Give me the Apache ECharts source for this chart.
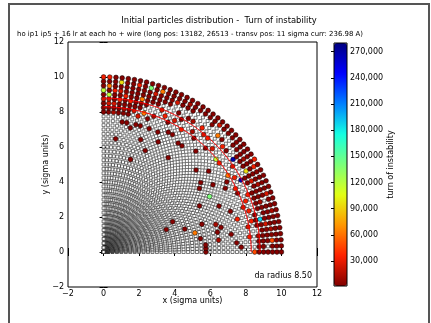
<!DOCTYPE html>
<html><head><meta charset="utf-8">
<script src="https://cdn.jsdelivr.net/npm/echarts@6/dist/echarts.min.js"></script>
<style>html,body{margin:0;padding:0;background:#fff}#c{width:431px;height:323px}</style>
</head><body><div id="c"></div>
<script>
// ---- data ----
const angles = [0,2,4,6,8,10,12,14,16,18,20,22,24,26,28,30,32,34,36,38,40,42,44,46,48,50,52,54,56,58,60,62,64,66,68,70,72,74,76,78,80,82,84,86,88,90];
const radii = [0,0.25,0.5,0.75,1,1.25,1.5,1.75,2,2.25,2.5,2.75,3,3.25,3.5,3.75,4,4.25,4.5,4.75,5,5.25,5.5,5.75,6,6.25,6.5,6.75,7,7.25,7.5,7.75,8,8.25,8.5,8.75,9,9.25,9.5,9.75,10];
const daRadii = [8.3, 8.8];
const cbTicks = [30000,60000,90000,120000,150000,180000,210000,240000,270000];
const turnRange = [1300, 280000];
// turn of instability for each code letter
const turnCodes = {a:3000, b:12000, r:24000, R:33000, o:48000, O:62000, y:95000, l:118000, g:140000, c:188000, N:268000};
// lost particles per angle: "idx+code" single points, "start:codes" runs ('.' = survived)
const lossRows = [
 "23a 34:oaaaaaa",
 "23a 31a 35:aa.aaa",
 "23a 30a 35:aaaoaa",
 "26b 33R 35:baaaaa",
 "22a 29a 35:.aabaa",
 "26a 33r 35:aaraaa",
 "21O 27a 34R 35:acaaaa",
 "26b 31R 35:a.aaba",
 "19a 23a 34R 36:aaaaa",
 "30a 33r 36:ab.aa",
 "15a 34R 36:aaara",
 "28a 35R 36:aaaaa",
 "17a 33a 36:.abaa",
 "24a 33R 36:araaa",
 "27g 31a 35N 36:aaaaa",
 "32a 34R 37:yaRa",
 "29a 33O 37:aaaR",
 "26a 35r 37:abaa",
 "27a 36:Naaaa",
 "30a 33R 38:aaa",
 "33l 36a 38:aaa",
 "28a 36R 39:aa",
 "34r 37a 39:aa",
 "33a 37O 39:aa",
 "31a 35R 39:ra",
 "35r 38a 39:aa",
 "33a 36R 39:aa",
 "30a 34b 39:aa",
 "26a 30a 36b 39:aa",
 "33R 36a 38:aaa",
 "31a 35a 38:aba",
 "31a 34r 36a 38:aaa",
 "28a 33a 38:raa",
 "30a 34R 37:aaaa",
 "25a 35r 37:aaaa",
 "30a 33b 36:aaaOa",
 "27a 32a 36:aaraa",
 "22a 30a 33O 35:aaaaga",
 "30a 32r 34:aaOaaaa",
 "29a 33:raaaaaRa",
 "30a 32:aaaRaaaaa",
 "30a 32:abaaRaaaa",
 "26a 32:aaaRaraya",
 "32:baraaRaaa",
 "32:aarrlaOaR",
 "32:aaaralaaR"
];
const titleText = 'Initial particles distribution -  Turn of instability';
const subText = 'ho ip1 ip5 + 16 lr at each ho + wire (long pos: 13182, 26513 - transv pos: 11 sigma curr: 236.98 A)';
const daText = 'da radius 8.50';

// ---- build ----
const stable = [], lost = [];
angles.forEach((a, ai) => {
  const codes = {};
  lossRows[ai].split(' ').forEach(tok => {
    if (tok.indexOf(':') >= 0) {
      const [s, str] = tok.split(':');
      const st = parseInt(s, 10);
      for (let k = 0; k < str.length; k++) codes[st + k] = str[k];
    } else {
      codes[parseInt(tok, 10)] = tok[tok.length - 1];
    }
  });
  const th = a * Math.PI / 180;
  radii.forEach((r, ri) => {
    const x = r * Math.cos(th), y = r * Math.sin(th);
    const c = codes[ri];
    if (c && c !== '.') lost.push([x, y, turnCodes[c]]);
    else stable.push([x, y]);
  });
});
const arcs = daRadii.map(R => angles.map(a => [R * Math.cos(a * Math.PI / 180), R * Math.sin(a * Math.PI / 180)]));

const jet = ['#800000','#ff2100','#ff9600','#e2ff14','#7aff7a','#14ffe2','#0080ff','#0000ff','#000080'];
const FF = '"DejaVu Sans", sans-serif';
const fmt = v => v < 0 ? '\u2212' + (-v) : String(v);
const tickStyle = {inside:true, length:4, lineStyle:{color:'#000', width:1}};

const chart = echarts.init(document.getElementById('c'), null, {renderer:'canvas'});
chart.setOption({
  animation:false,
  backgroundColor:'#fff',
  textStyle:{fontFamily:FF},
  title:[
    {text:titleText, left:219, top:17, textAlign:'center', padding:0,
     textStyle:{fontSize:8.4, fontWeight:'normal', fontFamily:FF, color:'#000'}},
    {text:subText, left:190, top:31, textAlign:'center', padding:0,
     textStyle:{fontSize:6.95, fontWeight:'normal', fontFamily:FF, color:'#000'}}
  ],
  grid:[
    {left:68, top:42, width:249, height:245, show:true, borderColor:'#000', borderWidth:1, backgroundColor:'#fff'},
    {left:334, top:43, width:13, height:243, show:true, borderColor:'#000', borderWidth:1, backgroundColor:'transparent', z:10}
  ],
  xAxis:[
    {gridIndex:0, type:'value', min:-2, max:12, interval:2, position:'bottom',
     axisLine:{show:false}, axisTick:tickStyle, splitLine:{show:false},
     axisLabel:{fontSize:8, color:'#000', margin:3, formatter:fmt, fontFamily:FF},
     name:'x (sigma units)', nameLocation:'middle', nameGap:10, nameMoveOverlap:false,
     nameTextStyle:{fontSize:8, color:'#000', fontFamily:FF}},
    {gridIndex:0, type:'value', min:-2, max:12, interval:2, position:'top',
     axisLine:{show:false}, axisTick:tickStyle, splitLine:{show:false}, axisLabel:{show:false}},
    {gridIndex:1, type:'value', min:0, max:1, show:false}
  ],
  yAxis:[
    {gridIndex:0, type:'value', min:-2, max:12, interval:2, position:'left',
     axisLine:{show:false}, axisTick:tickStyle, splitLine:{show:false},
     axisLabel:{fontSize:8, color:'#000', margin:4, formatter:fmt, fontFamily:FF},
     name:'y (sigma units)', nameLocation:'middle', nameGap:18, nameRotate:90, nameMoveOverlap:false,
     nameTextStyle:{fontSize:8, color:'#000', fontFamily:FF}},
    {gridIndex:0, type:'value', min:-2, max:12, interval:2, position:'right',
     axisLine:{show:false}, axisTick:tickStyle, splitLine:{show:false}, axisLabel:{show:false}},
    {gridIndex:1, type:'value', min:turnRange[0], max:turnRange[1], position:'right',
     axisLine:{show:false}, splitLine:{show:false},
     axisTick:{show:true, inside:true, length:3, customValues:cbTicks, lineStyle:{color:'#000'}},
     axisLabel:{fontSize:8, color:'#000', margin:3, customValues:cbTicks, fontFamily:FF},
     name:'turn of instability', nameLocation:'middle', nameGap:40, nameRotate:90,
     nameTextStyle:{fontSize:8, color:'#000', fontFamily:FF}}
  ],
  visualMap:{
    type:'continuous', min:turnRange[0], max:turnRange[1], dimension:2, seriesIndex:1,
    inRange:{color:jet}, left:334, top:43, itemWidth:13, itemHeight:243,
    calculable:false, padding:0, orient:'vertical', text:null, hoverLink:false
  },
  series:[
    {type:'scatter', data:stable, symbol:'rect', symbolSize:3, silent:true,
     itemStyle:{color:'#fff', borderColor:'#222', borderWidth:0.75}, z:2},
    {type:'scatter', data:lost, symbol:'circle', symbolSize:4.8, silent:true,
     itemStyle:{borderColor:'#000', borderWidth:0.5, opacity:1}, z:3},
    {type:'line', data:arcs[0], smooth:true, showSymbol:false, silent:true,
     lineStyle:{color:'#ff0000', width:1}, z:4},
    {type:'line', data:arcs[1], smooth:true, showSymbol:false, silent:true,
     lineStyle:{color:'#ff0000', width:1}, z:4}
  ],
  graphic:[
    {type:'rect', shape:{x:9, y:4, width:420, height:340}, style:{fill:'none', stroke:'#555', lineWidth:2}, silent:true, z:-1},
    {type:'text', x:312, y:276, style:{text:daText, align:'right', verticalAlign:'middle', fontSize:8, fontFamily:'DejaVu Sans', fill:'#000'}, silent:true, z:10}
  ]
});
</script>
</body></html>
